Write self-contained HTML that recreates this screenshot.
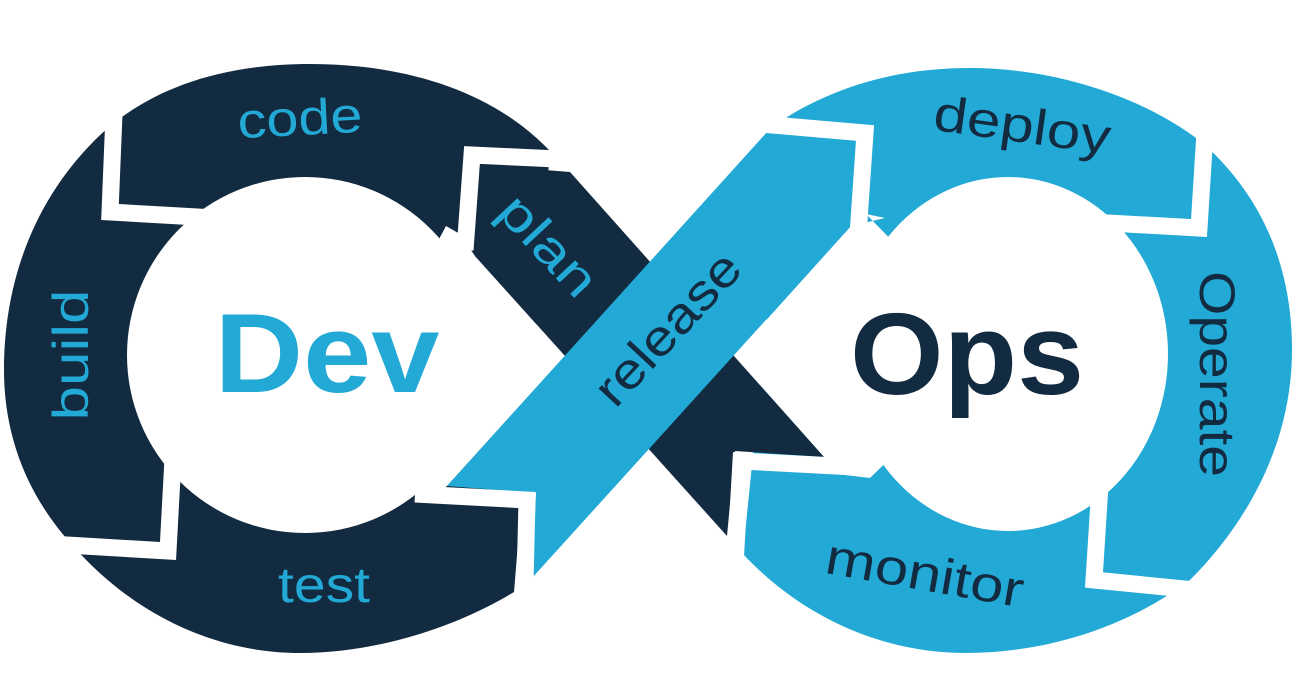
<!DOCTYPE html>
<html><head><meta charset="utf-8"><style>
html,body{margin:0;padding:0;background:#fff;}
svg{display:block;}
text{font-family:"Liberation Sans",sans-serif;}
</style></head><body>
<svg width="1300" height="699" viewBox="0 0 1300 699" xmlns="http://www.w3.org/2000/svg">
<rect width="1300" height="699" fill="#fff"/>
<path d="M550,151 C490,88 400,64 310,64 C210,64 140,95 95,140 C35,200 4,280 4,370 C4,440 30,500 75,548 C130,610 210,653 300,653 C380,653 460,625 514,592 Z" fill="#132b40"/>
<path d="M787,117 C840,85 900,68 970,68 C1060,68 1150,100 1205,145 C1265,200 1292,270 1292,350 C1292,440 1250,520 1190,580 C1130,625 1050,653 965,653 C880,653 800,615 743,554 Z" fill="#22a9d5"/>
<ellipse cx="305" cy="355" rx="178" ry="178" fill="#fff"/>
<polygon points="446,226 460,234 475,256 565,356 447,486 428,500 380,350" fill="#fff"/>
<ellipse cx="1008" cy="354" rx="160" ry="177" fill="#fff"/>
<polygon points="866,214 885,218 851,226 734,356 824,457 845,475 870,478 950,400 950,300" fill="#fff"/>
<polygon points="481,165 570,172 824,457 735,451 727,536 475,256" fill="#132b40"/>
<polygon points="768,131 857,139 851,226 532,578 536,493 447,486" fill="#22a9d5"/>
<g fill="none" stroke="#fff" stroke-width="17" stroke-linejoin="miter">
<polyline points="115,90 110,212 215,218"/>
<polyline points="50,544 168,551 174,440"/>
<polyline points="415,494 527,500 524,625"/>
<polyline points="600,161 472,155 465,250"/>
<polyline points="750,123 865,133 858,235"/>
<polyline points="1207,100 1199,228 1090,222"/>
<polyline points="1101,470 1094,580 1215,592"/>
<polyline points="855,467 741,461 735,565"/>
</g>
<g font-size="50" fill="#22a9d5">
<text x="300" y="135" text-anchor="middle" transform="rotate(-3 300 120)" textLength="125" lengthAdjust="spacingAndGlyphs">code</text>
<text x="324" y="602" text-anchor="middle" textLength="92" lengthAdjust="spacingAndGlyphs">test</text>
<text transform="translate(88,355) rotate(-90)" text-anchor="middle" textLength="131" lengthAdjust="spacingAndGlyphs">build</text>
<text transform="translate(536,257) rotate(47)" text-anchor="middle" textLength="120" lengthAdjust="spacingAndGlyphs">plan</text>
</g>
<text transform="translate(680,340) rotate(-47)" text-anchor="middle" font-size="50" fill="#132b40" textLength="190" lengthAdjust="spacingAndGlyphs">release</text>
<g font-size="50" fill="#132b40">
<text transform="translate(1020,142) rotate(8)" text-anchor="middle" textLength="178" lengthAdjust="spacingAndGlyphs">deploy</text>
<text transform="translate(1200,374) rotate(90)" text-anchor="middle" textLength="206" lengthAdjust="spacingAndGlyphs">Operate</text>
<text transform="translate(922,590) rotate(10)" text-anchor="middle" textLength="200" lengthAdjust="spacingAndGlyphs">monitor</text>
</g>
<text x="327" y="392" text-anchor="middle" font-size="112" font-weight="bold" fill="#22a9d5" textLength="225" lengthAdjust="spacingAndGlyphs">Dev</text>
<text x="967" y="394" text-anchor="middle" font-size="116" font-weight="bold" fill="#132b40" textLength="234" lengthAdjust="spacingAndGlyphs">Ops</text>
</svg>
</body></html>
